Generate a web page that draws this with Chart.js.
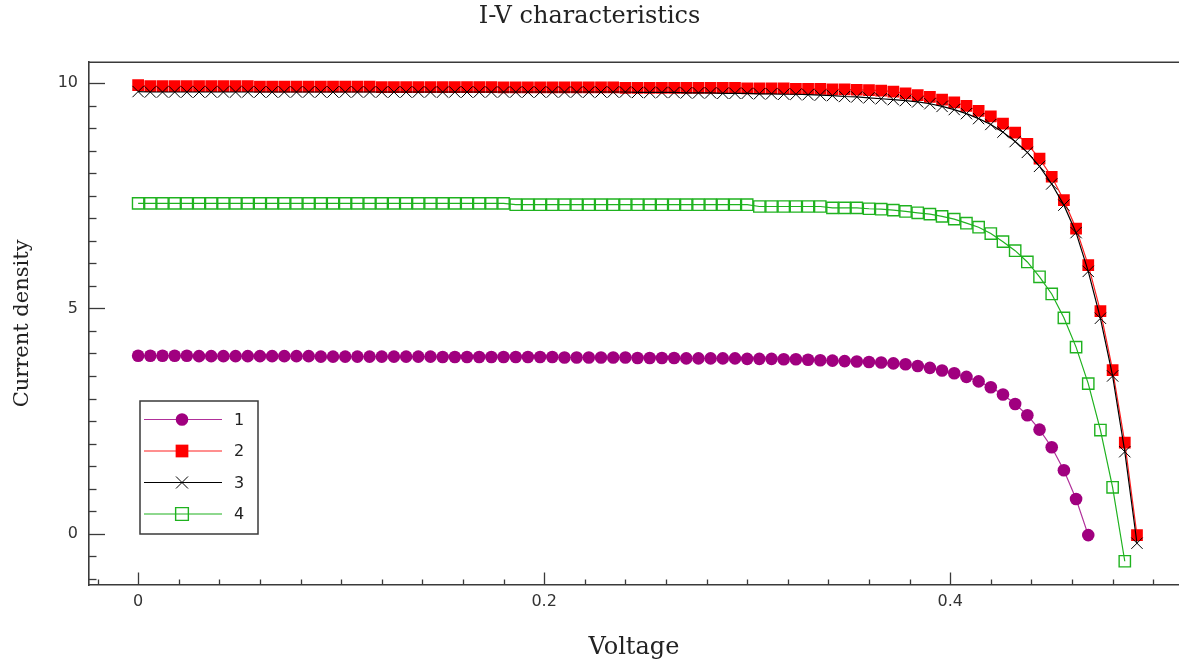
<!DOCTYPE html>
<html><head><meta charset="utf-8">
<script src="https://cdn.jsdelivr.net/npm/chart.js@4.4.1/dist/chart.umd.min.js"></script>
<style>html,body{margin:0;padding:0;background:#fff;overflow:hidden}#wrap{width:1179px;height:662px;position:relative}canvas{display:block}</style>
</head><body><div id="wrap"><canvas id="c"></canvas></div>
<script>
// ---- data ----
const voltage = [
  0, 0.006, 0.012, 0.018, 0.024, 0.030, 0.036, 0.042, 0.048, 0.054,
  0.060, 0.066, 0.072, 0.078, 0.084, 0.090, 0.096, 0.102, 0.108, 0.114,
  0.120, 0.126, 0.132, 0.138, 0.144, 0.150, 0.156, 0.162, 0.168, 0.174,
  0.180, 0.186, 0.192, 0.198, 0.204, 0.210, 0.216, 0.222, 0.228, 0.234,
  0.240, 0.246, 0.252, 0.258, 0.264, 0.270, 0.276, 0.282, 0.288, 0.294,
  0.300, 0.306, 0.312, 0.318, 0.324, 0.330, 0.336, 0.342, 0.348, 0.354,
  0.360, 0.366, 0.372, 0.378, 0.384, 0.390, 0.396, 0.402, 0.408, 0.414,
  0.420, 0.426, 0.432, 0.438, 0.444, 0.450, 0.456, 0.462, 0.468, 0.474,
  0.480, 0.486, 0.492
];
const current1 = [
  3.95, 3.95, 3.95, 3.95, 3.95, 3.94, 3.94, 3.94, 3.94, 3.94,
  3.94, 3.94, 3.94, 3.94, 3.94, 3.93, 3.93, 3.93, 3.93, 3.93,
  3.93, 3.93, 3.93, 3.93, 3.93, 3.92, 3.92, 3.92, 3.92, 3.92,
  3.92, 3.92, 3.92, 3.92, 3.92, 3.91, 3.91, 3.91, 3.91, 3.91,
  3.91, 3.90, 3.90, 3.90, 3.90, 3.89, 3.89, 3.89, 3.89, 3.89,
  3.88, 3.88, 3.88, 3.87, 3.87, 3.86, 3.85, 3.84, 3.83, 3.82,
  3.81, 3.80, 3.78, 3.76, 3.72, 3.68, 3.62, 3.56, 3.48, 3.38,
  3.25, 3.09, 2.88, 2.63, 2.31, 1.92, 1.41, 0.77, -0.03
];
const current2 = [
  9.95, 9.93, 9.93, 9.93, 9.93, 9.93, 9.93, 9.93, 9.93, 9.93,
  9.92, 9.92, 9.92, 9.92, 9.92, 9.92, 9.92, 9.92, 9.92, 9.92,
  9.91, 9.91, 9.91, 9.91, 9.91, 9.91, 9.91, 9.91, 9.91, 9.91,
  9.90, 9.90, 9.90, 9.90, 9.90, 9.90, 9.90, 9.90, 9.90, 9.90,
  9.89, 9.89, 9.89, 9.89, 9.89, 9.89, 9.89, 9.89, 9.89, 9.89,
  9.88, 9.88, 9.88, 9.88, 9.87, 9.87, 9.87, 9.86, 9.86, 9.85,
  9.84, 9.83, 9.81, 9.77, 9.73, 9.69, 9.63, 9.57, 9.49, 9.38,
  9.26, 9.10, 8.90, 8.65, 8.32, 7.92, 7.40, 6.77, 5.96, 4.94,
  3.63, 2.02, -0.03
];
const current3 = [
  9.81, 9.80, 9.80, 9.80, 9.80, 9.80, 9.80, 9.80, 9.80, 9.80,
  9.80, 9.80, 9.80, 9.80, 9.80, 9.80, 9.80, 9.80, 9.80, 9.80,
  9.80, 9.80, 9.80, 9.80, 9.80, 9.80, 9.80, 9.80, 9.80, 9.80,
  9.80, 9.80, 9.80, 9.80, 9.80, 9.80, 9.80, 9.80, 9.80, 9.80,
  9.80, 9.79, 9.79, 9.79, 9.79, 9.78, 9.78, 9.78, 9.77, 9.77,
  9.77, 9.76, 9.76, 9.75, 9.75, 9.74, 9.73, 9.72, 9.70, 9.69,
  9.67, 9.65, 9.63, 9.61, 9.58, 9.54, 9.48, 9.41, 9.32, 9.21,
  9.08, 8.91, 8.70, 8.46, 8.15, 7.76, 7.29, 6.68, 5.82, 4.78,
  3.50, 1.82, -0.21
];
const current4 = [
  7.33, 7.33, 7.33, 7.33, 7.33, 7.33, 7.33, 7.33, 7.33, 7.33,
  7.33, 7.33, 7.33, 7.33, 7.33, 7.33, 7.33, 7.33, 7.33, 7.33,
  7.33, 7.33, 7.33, 7.33, 7.33, 7.33, 7.33, 7.33, 7.33, 7.33,
  7.33, 7.30, 7.30, 7.30, 7.30, 7.30, 7.30, 7.30, 7.30, 7.30,
  7.30, 7.30, 7.30, 7.30, 7.30, 7.30, 7.30, 7.30, 7.30, 7.30,
  7.30, 7.26, 7.26, 7.26, 7.26, 7.26, 7.26, 7.23, 7.23, 7.23,
  7.21, 7.20, 7.18, 7.15, 7.12, 7.09, 7.04, 6.98, 6.89, 6.80,
  6.66, 6.48, 6.28, 6.03, 5.70, 5.32, 4.79, 4.14, 3.33, 2.30,
  1.03, -0.61
];
const seriesNames = ['1', '2', '3', '4'];
const xTickValues = [0, 0.2, 0.4];
const yTickValues = [0, 5, 10];

function toPoints(ys) { return ys.map((v, i) => ({x: voltage[i], y: v})); }

// ---- plugins ----
const framePlugin = {
  id: 'frameTicks',
  afterDatasetsDraw(chart) {
    const {ctx, chartArea: a, scales: {x, y}} = chart;
    ctx.save();
    ctx.strokeStyle = '#3a3a3a';
    ctx.lineWidth = 1.6;
    ctx.beginPath(); ctx.moveTo(a.left, a.top + 0.5); ctx.lineTo(a.right, a.top + 0.5); ctx.stroke();
    ctx.lineWidth = 1.3;
    for (let k = -2; k <= 26; k++) {
      const px = Math.round(x.getPixelForValue(k * 0.02)) + 0.5;
      if (px < a.left + 2 || px > a.right) continue;
      const len = (k % 10 === 0) ? 12.5 : 5.5;
      ctx.beginPath(); ctx.moveTo(px, a.bottom); ctx.lineTo(px, a.bottom - len); ctx.stroke();
    }
    for (let k = -4; k <= 22; k++) {
      const py = Math.round(y.getPixelForValue(k * 0.5)) + 0.5;
      if (py < a.top + 2 || py > a.bottom - 2) continue;
      const len = (k % 10 === 0) ? 16 : 7.5;
      ctx.beginPath(); ctx.moveTo(a.left, py); ctx.lineTo(a.left + len, py); ctx.stroke();
    }
    ctx.restore();
  }
};

const boxLegend = {
  id: 'boxLegend',
  afterDraw(chart) {
    const {ctx, chartArea: a} = chart;
    const left = a.left + 51, top = 401, right = a.left + 169, bottom = 534;
    ctx.save();
    ctx.fillStyle = '#fff';
    ctx.fillRect(left, top, right - left, bottom - top);
    ctx.strokeStyle = '#3a3a3a';
    ctx.lineWidth = 1.5;
    ctx.strokeRect(left, top, right - left, bottom - top);
    chart.data.datasets.forEach((ds, i) => {
      const cy = top + 18.5 + 31.5 * i;
      ctx.strokeStyle = ds.borderColor;
      ctx.lineWidth = ds.borderWidth;
      ctx.beginPath(); ctx.moveTo(left + 4, cy); ctx.lineTo(left + 82, cy); ctx.stroke();
      ctx.fillStyle = ds.pointBackgroundColor;
      ctx.strokeStyle = ds.pointBorderColor;
      ctx.lineWidth = ds.pointBorderWidth;
      Chart.helpers.drawPoint(ctx, {pointStyle: ds.pointStyle, radius: ds.legendRadius, rotation: 0, borderWidth: ds.pointBorderWidth}, left + 42, cy);
      ctx.fillStyle = '#222';
      ctx.font = '16px "DejaVu Sans"';
      ctx.textBaseline = 'middle';
      ctx.textAlign = 'left';
      ctx.fillText(ds.label, left + 94, cy + 1);
    });
    ctx.restore();
  }
};

new Chart(document.getElementById('c'), {
  type: 'line',
  data: {
    datasets: [
      { label: seriesNames[0], data: toPoints(current1), order: 3,
        borderColor: '#b0309a', borderWidth: 1.2,
        pointStyle: 'circle', pointRadius: 6.3, legendRadius: 6.3,
        pointBackgroundColor: '#a0007f', pointBorderColor: '#a0007f', pointBorderWidth: 0 },
      { label: seriesNames[1], data: toPoints(current2), order: 1,
        borderColor: '#ff2020', borderWidth: 1.2,
        pointStyle: 'rect', pointRadius: 8.3, legendRadius: 9,
        pointBackgroundColor: '#ff0000', pointBorderColor: '#ff0000', pointBorderWidth: 0 },
      { label: seriesNames[2], data: toPoints(current3), order: 0,
        borderColor: '#000000', borderWidth: 1.2,
        pointStyle: 'crossRot', pointRadius: 8, legendRadius: 8.5,
        pointBackgroundColor: '#000000', pointBorderColor: '#000000', pointBorderWidth: 1 },
      { label: seriesNames[3], data: toPoints(current4), order: 2,
        borderColor: '#1fb21f', borderWidth: 1.2,
        pointStyle: 'rect', pointRadius: 8, legendRadius: 9,
        pointBackgroundColor: 'rgba(255,255,255,0)', pointBorderColor: '#1fb21f', pointBorderWidth: 1.4 }
    ]
  },
  options: {
    responsive: true,
    maintainAspectRatio: false,
    animation: false,
    devicePixelRatio: 1,
    layout: { padding: 0, autoPadding: false },
    elements: { line: { tension: 0 } },
    plugins: {
      legend: { display: false },
      tooltip: { enabled: false },
      title: {
        display: true, text: 'I-V characteristics', color: '#222',
        font: { family: '"DejaVu Serif"', size: 24, weight: 'normal', lineHeight: 1.2 },
        padding: { top: 2, bottom: 31 }
      }
    },
    scales: {
      x: {
        type: 'linear', min: -0.0242, max: 0.5127,
        afterFit(s) { s.height = 77; s.paddingLeft = 0; s.paddingRight = 0; },
        afterBuildTicks(s) { s.ticks = xTickValues.map(v => ({ value: v })); },
        grid: { display: false, drawTicks: false },
        border: { display: true, color: '#3a3a3a', width: 1.6 },
        ticks: { color: '#333', padding: 7, maxRotation: 0, autoSkip: false,
          font: { family: '"DejaVu Sans"', size: 16 },
          callback: v => String(v) },
        title: { display: true, text: 'Voltage', color: '#222',
          font: { family: '"DejaVu Serif"', size: 24, lineHeight: 1.2 },
          padding: { top: 0, bottom: 0 } }
      },
      y: {
        type: 'linear', min: -1.137, max: 10.47,
        afterFit(s) { s.width = 89; s.paddingTop = 0; s.paddingBottom = 0; },
        afterBuildTicks(s) { s.ticks = yTickValues.map(v => ({ value: v })); },
        grid: { display: false, drawTicks: false },
        border: { display: true, color: '#3a3a3a', width: 1.6 },
        ticks: { color: '#333', padding: 11, autoSkip: false,
          font: { family: '"DejaVu Sans"', size: 16 },
          callback: v => String(v) },
        title: { display: true, text: 'Current density', color: '#222',
          font: { family: '"DejaVu Serif"', size: 21, lineHeight: 1.2 },
          padding: { top: 10, bottom: 0 } }
      }
    }
  },
  plugins: [framePlugin, boxLegend]
});
</script>
</body></html>
